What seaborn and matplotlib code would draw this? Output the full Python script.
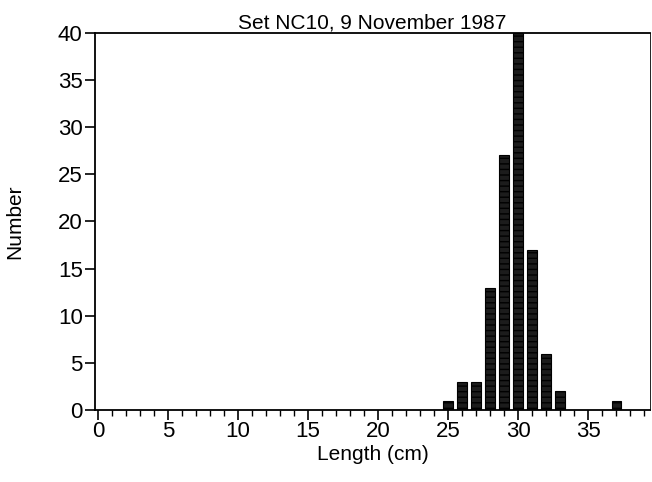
import matplotlib
matplotlib.use("Agg")
import matplotlib.pyplot as plt
from matplotlib.ticker import MultipleLocator
import seaborn as sns

# length frequency, set NC10
lengths = [25, 26, 27, 28, 29, 30, 31, 32, 33, 37]
counts = [1, 3, 3, 13, 27, 40, 17, 6, 2, 1]

sns.set_theme(style="ticks")
plt.rcParams['font.family'] = ['Liberation Sans', 'DejaVu Sans']
plt.rcParams['text.color'] = 'black'
plt.rcParams['axes.labelcolor'] = 'black'

fig = plt.figure(figsize=(6.52, 4.82), dpi=100)
ax = fig.add_axes([0.146, 0.149, 0.851, 0.783])

sns.barplot(x=lengths, y=counts, native_scale=True, width=0.7,
            color="#1c1c1c", edgecolor="black", linewidth=0.8,
            hatch="---", ax=ax)
for p in ax.patches:
    p.set_facecolor("#1c1c1c")

ax.set_xlim(-0.2, 39.4)
ax.set_ylim(0, 40)
ax.xaxis.set_major_locator(MultipleLocator(5))
ax.xaxis.set_minor_locator(MultipleLocator(1))
ax.yaxis.set_major_locator(MultipleLocator(5))
ax.tick_params(axis='both', which='major', direction='out', length=7,
               width=1.2, labelsize=16, color='black', labelcolor='black')
ax.tick_params(axis='x', which='minor', direction='out', length=4,
               width=1, color='black')
ax.tick_params(axis='x', pad=1)
ax.tick_params(axis='y', pad=2)

for side in ['left', 'top', 'bottom', 'right']:
    ax.spines[side].set_visible(True)
    ax.spines[side].set_color('black')
    ax.spines[side].set_linewidth(1.3)
ax.spines['right'].set_linewidth(0.6)

ax.set_title("Set NC10, 9 November 1987", fontsize=15, pad=3)
ax.set_xlabel("Length (cm)", fontsize=15, labelpad=2)
ax.set_ylabel("Number", fontsize=15, labelpad=24)

fig.savefig("out.png", dpi=100)
